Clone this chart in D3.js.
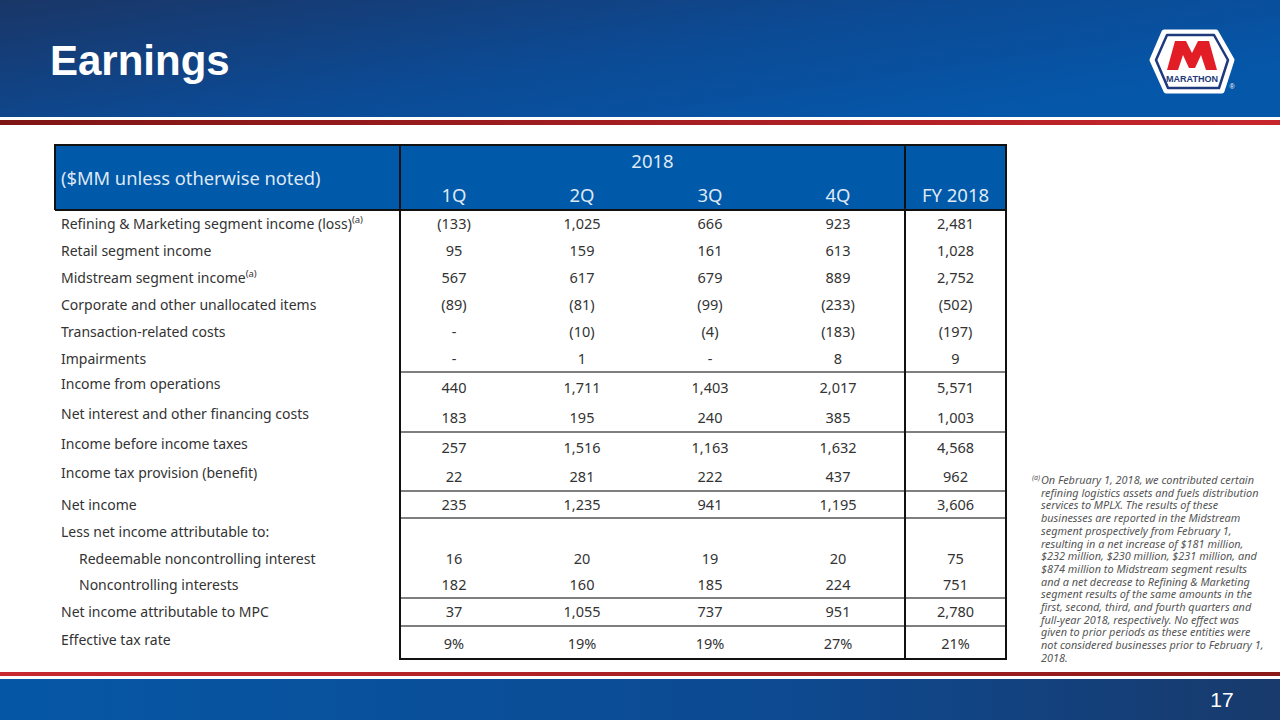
<!DOCTYPE html>
<html>
<head>
<meta charset="utf-8">
<script src="https://cdn.jsdelivr.net/npm/d3@7"></script>
<style>
  html, body { margin: 0; padding: 0; background: #fff; }
  svg { display: block; }
</style>
</head>
<body>
<svg id="slide" width="1280" height="720"></svg>
<script>
// ---- data ----
const title = "Earnings";
const yearLabel = "2018";
const quarters = ["1Q", "2Q", "3Q", "4Q"];
const fyLabel = "FY 2018";
const unitsLabel = "($MM unless otherwise noted)";

const rowLabels = [
  "Refining & Marketing segment income (loss)",
  "Retail segment income",
  "Midstream segment income",
  "Corporate and other unallocated items",
  "Transaction-related costs",
  "Impairments",
  "Income from operations",
  "Net interest and other financing costs",
  "Income before income taxes",
  "Income tax provision (benefit)",
  "Net income",
  "Less net income attributable to:",
  "Redeemable noncontrolling interest",
  "Noncontrolling interests",
  "Net income attributable to MPC",
  "Effective tax rate"
];
// null = "-" on the slide, undefined = blank cell
const q1 = [-133, 95, 567, -89, null, null, 440, 183, 257, 22, 235, undefined, 16, 182, 37, 9];
const q2 = [1025, 159, 617, -81, -10, 1, 1711, 195, 1516, 281, 1235, undefined, 20, 160, 1055, 19];
const q3 = [666, 161, 679, -99, -4, null, 1403, 240, 1163, 222, 941, undefined, 19, 185, 737, 19];
const q4 = [923, 613, 889, -233, -183, 8, 2017, 385, 1632, 437, 1195, undefined, 20, 224, 951, 27];
const fy = [2481, 1028, 2752, -502, -197, 9, 5571, 1003, 4568, 962, 3606, undefined, 75, 751, 2780, 21];

const noteRows = [0, 2];
const indentRows = [12, 13];
const percentRows = [15];

const footnote = [
  "On February 1, 2018, we contributed certain",
  "refining logistics assets and fuels distribution",
  "services to MPLX. The results of these",
  "businesses are reported in the Midstream",
  "segment prospectively from February 1,",
  "resulting in a net increase of $181 million,",
  "$232 million, $230 million, $231 million, and",
  "$874 million to Midstream segment results",
  "and a net decrease to Refining & Marketing",
  "segment results of the same amounts in the",
  "first, second, third, and fourth quarters and",
  "full-year 2018, respectively. No effect was",
  "given to prior periods as these entities were",
  "not considered businesses prior to February 1,",
  "2018."
];
const pageNum = "17";

// ---- layout ----
const rowH = [27, 27, 27, 27, 27, 27, 30, 30, 29, 30, 27, 27, 27, 26, 28, 33];
const ruleAbove = [6, 8, 10, 11, 14, 15];
const tbl = { left: 55, right: 1006, top: 145, headBottom: 210, colStart: 400, fyStart: 905 };
const font = "'Noto Sans', 'Open Sans', sans-serif";
const ink = "#333";

const svg = d3.select("#slide");
const defs = svg.append("defs");

function grad(id, stops, x2, y2) {
  const g = defs.append("linearGradient").attr("id", id)
    .attr("x1", 0).attr("y1", 0).attr("x2", x2).attr("y2", y2);
  stops.forEach(s => g.append("stop").attr("offset", s[0]).attr("stop-color", s[1]));
}
grad("topBlue", [[0, "#1a3667"], [0.55, "#0c4a94"], [1, "#0557aa"]], 1, 0.6);
grad("botBlue", [[0, "#0557a6"], [0.6, "#0d4a92"], [1, "#183a6c"]], 1, 0);
grad("topRed", [[0, "#7e1515"], [1, "#c8262d"]], 1, 0);
grad("botRed", [[0, "#c8282f"], [1, "#8a1919"]], 1, 0);

// header band
svg.append("rect").attr("x", 0).attr("y", 0).attr("width", 1280).attr("height", 117).attr("fill", "url(#topBlue)");
svg.append("rect").attr("x", 0).attr("y", 120).attr("width", 1280).attr("height", 5).attr("fill", "url(#topRed)");
svg.append("text").attr("x", 50).attr("y", 75)
  .attr("font-family", "'Liberation Sans', Arial, sans-serif").attr("font-weight", "bold")
  .attr("font-size", 42).attr("fill", "#fff").text(title);

// footer band
svg.append("rect").attr("x", 0).attr("y", 672).attr("width", 1280).attr("height", 4).attr("fill", "url(#botRed)");
svg.append("rect").attr("x", 0).attr("y", 679).attr("width", 1280).attr("height", 41).attr("fill", "url(#botBlue)");
svg.append("text").attr("x", 1222).attr("y", 707).attr("text-anchor", "middle")
  .attr("font-family", "'Liberation Sans', Arial, sans-serif").attr("font-size", 21)
  .attr("fill", "#fff").text(pageNum);

// logo
const logo = svg.append("g").attr("transform", "translate(1192,62)");
const hex = d3.line().curve(d3.curveLinearClosed);
const outer = [[-28, -30], [24, -30], [40, -2], [30, 29], [-26, 29], [-40, -2]];
logo.append("path").attr("d", hex(outer)).attr("fill", "#fff")
  .attr("stroke", "#fff").attr("stroke-width", 5).attr("stroke-linejoin", "round");
const inner = [[-25, -27], [22, -27], [36, -2], [27, 26], [-24, 26], [-36, -2]];
logo.append("path").attr("d", hex(inner)).attr("fill", "#fff")
  .attr("stroke", "#1f3a7c").attr("stroke-width", 2.5).attr("stroke-linejoin", "round");
const mShape = [[-25, 8], [-17, -21], [-6, -21], [0, -9], [6, -21], [17, -21], [25, 8],
  [14, 8], [9, -7], [3, 6], [-3, 6], [-9, -7], [-14, 8]];
logo.append("path").attr("d", hex(mShape)).attr("fill", "#e21d26");
logo.append("text").attr("x", 0).attr("y", 20).attr("text-anchor", "middle")
  .attr("font-family", "'Liberation Sans', Arial, sans-serif").attr("font-weight", "bold")
  .attr("font-size", 9).attr("textLength", 52).attr("lengthAdjust", "spacingAndGlyphs")
  .attr("fill", "#1f3a7c").text("MARATHON");
svg.append("text").attr("x", 1232).attr("y", 89).attr("text-anchor", "middle")
  .attr("font-family", "'Liberation Sans', Arial, sans-serif").attr("font-size", 7)
  .attr("fill", "#fff").text("\u00ae");

// ---- table ----
const x = d3.scaleBand().domain(quarters).range([390, 902]);
const fyX = (tbl.fyStart + tbl.right) / 2;

const rowTop = d3.cumsum([0].concat(rowH)).map(v => v + tbl.headBottom);
const rowMid = i => rowTop[i] + rowH[i] / 2;
const tableBottom = rowTop[rowH.length];

// header fill
svg.append("rect").attr("x", tbl.left).attr("y", tbl.top)
  .attr("width", tbl.right - tbl.left).attr("height", tbl.headBottom - tbl.top)
  .attr("fill", "#0059a9");

const headInk = "#dfe8f5";
svg.append("text").attr("x", 61).attr("y", 185)
  .attr("font-family", font).attr("font-size", 18.3).attr("fill", headInk).text(unitsLabel);
svg.append("text").attr("x", (tbl.colStart + tbl.fyStart) / 2).attr("y", 168)
  .attr("text-anchor", "middle").attr("font-family", font).attr("font-size", 18.5)
  .attr("fill", headInk).text(yearLabel);
svg.selectAll("text.qhead").data(quarters).join("text").attr("class", "qhead")
  .attr("x", d => x(d) + x.bandwidth() / 2).attr("y", 202)
  .attr("text-anchor", "middle").attr("font-family", font).attr("font-size", 18.5)
  .attr("fill", headInk).text(d => d);
svg.append("text").attr("x", fyX).attr("y", 202).attr("text-anchor", "middle")
  .attr("font-family", font).attr("font-size", 18.5).attr("fill", headInk).text(fyLabel);

// horizontal rules in the value block
svg.selectAll("line.rule").data(ruleAbove).join("line").attr("class", "rule")
  .attr("x1", tbl.colStart).attr("x2", tbl.right)
  .attr("y1", d => rowTop[d]).attr("y2", d => rowTop[d])
  .attr("stroke", "#555").attr("stroke-width", 1.4);

// borders
const border = svg.append("g").attr("stroke", "#111").attr("fill", "none");
border.append("path").attr("stroke-width", 2)
  .attr("d", `M${tbl.left},${tbl.headBottom}V${tbl.top}H${tbl.right}V${tableBottom}H${tbl.colStart}V${tbl.top}`);
border.append("line").attr("stroke-width", 2.2)
  .attr("x1", tbl.left).attr("x2", tbl.right).attr("y1", tbl.headBottom).attr("y2", tbl.headBottom);
border.append("line").attr("stroke-width", 2)
  .attr("x1", tbl.fyStart).attr("x2", tbl.fyStart).attr("y1", tbl.top).attr("y2", tableBottom);

// row labels
const labels = svg.selectAll("text.rowlabel").data(rowLabels).join("text").attr("class", "rowlabel")
  .attr("x", (d, i) => indentRows.includes(i) ? 79 : 61)
  .attr("y", (d, i) => rowMid(i) - (rowH[i] >= 29 ? 3 : 0) + 5)
  .attr("font-family", font).attr("font-size", 14).attr("fill", ink)
  .text(d => d);
labels.filter((d, i) => noteRows.includes(i)).append("tspan")
  .attr("font-size", 9.5).attr("dy", -6).text("(a)");

// values
const fmtNum = d3.format(",");
function cell(v, i) {
  if (v === undefined) return "";
  if (v === null) return "-";
  if (percentRows.includes(i)) return v + "%";
  return v < 0 ? "(" + fmtNum(-v) + ")" : fmtNum(v);
}
const series = [q1, q2, q3, q4];
series.forEach((vals, k) => {
  svg.selectAll("text.q" + k).data(vals).join("text").attr("class", "q" + k)
    .attr("x", x(quarters[k]) + x.bandwidth() / 2)
    .attr("y", (d, i) => rowMid(i) + 5 + (rowH[i] >= 29 ? 1 : 0))
    .attr("text-anchor", "middle").attr("font-family", font).attr("font-size", 14.5)
    .attr("fill", ink).text((d, i) => cell(d, i));
});
svg.selectAll("text.fy").data(fy).join("text").attr("class", "fy")
  .attr("x", fyX)
  .attr("y", (d, i) => rowMid(i) + 5 + (rowH[i] >= 29 ? 1 : 0))
  .attr("text-anchor", "middle").attr("font-family", font).attr("font-size", 14.5)
  .attr("fill", ink).text((d, i) => cell(d, i));

// footnote
const fn = svg.append("g").attr("font-family", font).attr("font-style", "italic")
  .attr("fill", "#555");
fn.append("text").attr("x", 1032).attr("y", 480).attr("font-size", 7).text("(a)");
fn.selectAll("text.fn").data(footnote).join("text").attr("class", "fn")
  .attr("x", 1041).attr("y", (d, i) => 484 + i * 12.7)
  .attr("font-size", 10.9).text(d => d);
</script>
</body>
</html>
